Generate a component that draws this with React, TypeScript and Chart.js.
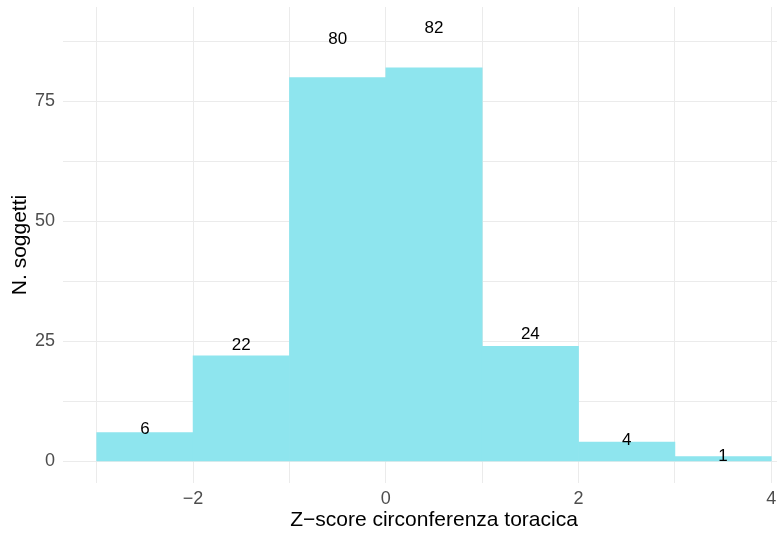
import React, { useEffect, useRef } from "react";
import { Chart, registerables } from "chart.js";

Chart.register(...registerables);

const binCenters = [-2.5, -1.5, -0.5, 0.5, 1.5, 2.5, 3.5];
const counts = [6, 22, 80, 82, 24, 4, 1];
const xTickValues = [-3, -2, -1, 0, 1, 2, 3, 4];
const xTickLabels = ["", "\u22122", "", "0", "", "2", "", "4"];
const yTickValues = [0, 12.5, 25, 37.5, 50, 62.5, 75, 87.5];
const yTickLabels = ["0", "", "25", "", "50", "", "75", ""];
const xTitle = "Z\u2212score circonferenza toracica";
const yTitle = "N. soggetti";

const FONT = "'Liberation Sans', Arial, Helvetica, sans-serif";
const CANVAS_W = 805;

const labelPlugin = {
  id: "barLabels",
  afterDatasetsDraw(chart: any) {
    const { ctx, scales } = chart;
    ctx.save();
    ctx.font = `17px ${FONT}`;
    ctx.fillStyle = "#000000";
    ctx.textAlign = "center";
    ctx.textBaseline = "middle";
    counts.forEach((c, i) => {
      const x = scales.x.getPixelForValue(binCenters[i]);
      const y = scales.y.getPixelForValue(c * 1.1);
      ctx.fillText(String(c), x, y);
    });
    ctx.restore();
  },
};

export default function App() {
  const ref = useRef<HTMLCanvasElement | null>(null);
  useEffect(() => {
    document.body.style.margin = "0";
    const chart = new Chart(ref.current as HTMLCanvasElement, {
      type: "bar",
      data: {
        datasets: [
          {
            data: binCenters.map((x, i) => ({ x, y: counts[i] })),
            backgroundColor: "#8EE5EE",
            borderWidth: 0,
            barPercentage: 1,
            categoryPercentage: 1,
          },
        ],
      },
      options: {
        animation: false,
        responsive: false,
        maintainAspectRatio: false,
        layout: { padding: { top: 7, right: 0, left: 0, bottom: 0 } },
        plugins: { legend: { display: false }, tooltip: { enabled: false } },
        scales: {
          x: {
            type: "linear",
            offset: false,
            min: -3.35,
            max: 4.35,
            afterBuildTicks: (s: any) => {
              s.ticks = xTickValues.map((v) => ({ value: v }));
            },
            afterFit: (s: any) => {
              s.height = 52;
              s.paddingLeft = 0;
              s.paddingRight = 0;
            },
            grid: { color: "#EBEBEB", lineWidth: 1, drawTicks: false, offset: false },
            border: { display: false },
            ticks: {
              autoSkip: false,
              maxRotation: 0,
              padding: 5,
              color: "#4D4D4D",
              font: { family: FONT, size: 18 },
              callback: (_v: any, i: number) => xTickLabels[i],
            },
            title: {
              display: true,
              text: xTitle,
              color: "#000000",
              font: { family: FONT, size: 21 },
              padding: { top: 0, bottom: 2 },
            },
          },
          y: {
            type: "linear",
            min: -4.51,
            max: 94.7,
            afterBuildTicks: (s: any) => {
              s.ticks = yTickValues.map((v) => ({ value: v }));
            },
            afterFit: (s: any) => {
              s.width = 63;
              s.paddingTop = 0;
              s.paddingBottom = 0;
            },
            grid: { color: "#EBEBEB", lineWidth: 1, drawTicks: false },
            border: { display: false },
            ticks: {
              autoSkip: false,
              padding: 8,
              color: "#4D4D4D",
              font: { family: FONT, size: 18 },
              callback: (_v: any, i: number) => yTickLabels[i],
            },
            title: {
              display: true,
              text: yTitle,
              color: "#000000",
              font: { family: FONT, size: 21 },
              padding: { top: 8, bottom: 0 },
            },
          },
        },
      },
      plugins: [labelPlugin],
    } as any);
    return () => chart.destroy();
  }, []);
  return (
    <div style={{ position: "absolute", left: 0, top: 0, width: 777, height: 535, overflow: "hidden", background: "#fff" }}>
      <canvas ref={ref} width={CANVAS_W} height={535} style={{ width: CANVAS_W, height: 535, display: "block" }} />
    </div>
  );
}
